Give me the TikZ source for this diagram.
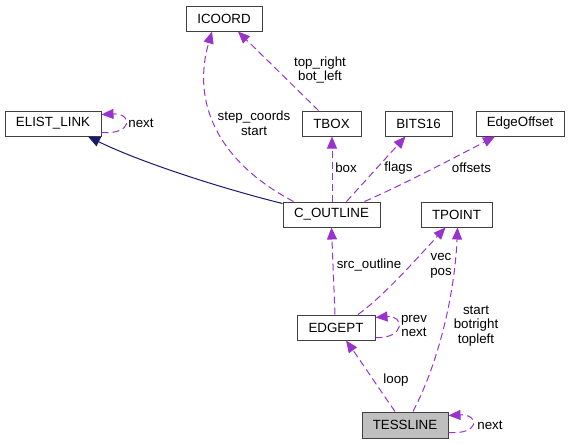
\documentclass[tikz,border=0pt]{standalone}
\usepackage{fontspec}
\setmainfont{Liberation Sans}
\usetikzlibrary{arrows.meta,calc}
\definecolor{usecol}{HTML}{9A32CD}
\definecolor{inhcol}{HTML}{191970}
\begin{document}
\begin{tikzpicture}[x=0.75pt,y=-0.75pt,
  cls/.style={draw=black!75, line width=0.75pt, fill=white, minimum height=25*0.75pt, inner sep=0pt, font=\fontsize{10}{11}\selectfont},
  lbl/.style={align=center, font=\fontsize{10}{11}\selectfont, inner sep=0pt},
  usage/.style={draw=usecol, line width=0.75pt, dash pattern=on 5.25pt off 3pt, -{Triangle[length=9pt,width=7.5pt,fill=usecol]}},
  inherit/.style={draw=inhcol, line width=0.75pt, -{Triangle[length=9pt,width=7.5pt,fill=inhcol]}}]
\useasboundingbox (0,0) rectangle (569,444);
% nodes
\node[cls, minimum width=76*0.75pt] (icoord) at (224,18.5) {ICOORD};
\node[cls, minimum width=96*0.75pt] (elist) at (53,123.5) {ELIST\_LINK};
\node[cls, minimum width=59*0.75pt] (tbox) at (331.5,123.5) {TBOX};
\node[cls, minimum width=67*0.75pt] (bits) at (418.5,123.5) {BITS16};
\node[cls, minimum width=88*0.75pt] (eo) at (520,123.5) {EdgeOffset};
\node[cls, minimum width=97*0.75pt] (cout) at (331.5,214.5) {C\_OUTLINE};
\node[cls, minimum width=71*0.75pt] (tpoint) at (456.5,214.5) {TPOINT};
\node[cls, minimum width=78*0.75pt] (edgept) at (336,327.5) {EDGEPT};
\node[cls, minimum width=86*0.75pt, minimum height=26*0.75pt, fill=black!25] (tess) at (405,425) {TESSLINE};
% inheritance
\draw[inherit] ($(cout.north west)+(0,2)$) .. controls (220,188) and (140,162) .. ($(elist.south)+(35,0)$);
% self loops
\draw[usage] ($(elist.south east)+(0,-4)$) .. controls (133,135) and (133,113) .. ($(elist.north east)+(0,4)$);
\draw[usage] ($(edgept.south east)+(0,-3)$) .. controls (405,339) and (405,315) .. ($(edgept.north east)+(0,3)$);
\draw[usage] ($(tess.south east)+(0,-6)$) .. controls (480,435) and (480,414) .. ($(tess.north east)+(0,4)$);
% usage edges
\draw[usage] ($(cout.north)+(-38,0)$) .. controls (215,160) and (192,100) .. ($(icoord.south)+(-12,0)$);
\draw[usage] ($(tbox.north)+(-13,0)$) -- ($(icoord.south)+(14,0)$);
\draw[usage] ($(cout.north)+(0.5,0)$) -- ($(tbox.south)+(0.5,0)$);
\draw[usage] ($(cout.north)+(15,0)$) -- ($(bits.south)+(-13,0)$);
\draw[usage] ($(cout.north)+(33,0)$) .. controls (400,186) and (450,160) .. ($(eo.south)+(-25,0)$);
\draw[usage] ($(edgept.north)+(-1,0)$) -- (cout.south);
\draw[usage] ($(edgept.north)+(22,0)$) .. controls (385,295) and (420,255) .. ($(tpoint.south)+(-11,0)$);
\draw[usage] ($(tess.north)+(-10,0)$) .. controls (380,390) and (360,360) .. ($(edgept.south)+(10,0)$);
\draw[usage] ($(tess.north)+(8,0)$) .. controls (440,360) and (455,290) .. ($(tpoint.south)+(1,0)$);
% labels
\node[lbl] (l1) at (141,123) {next};
\node[lbl] (l2) at (254,123) {step\_coords\\start};
\node[lbl] (l3) at (320,70) {top\_right\\bot\_left};
\node[lbl] (l4) at (346,168) {box};
\node[lbl] (l5) at (398.5,168) {flags};
\node[lbl] (l6) at (471.5,168) {offsets};
\node[lbl] (l7) at (369,265) {src\_outline};
\node[lbl] (l8) at (441,266) {vec\\pos};
\node[lbl] (l9) at (414,326) {prev\\next};
\node[lbl] (l10) at (396,380) {loop};
\node[lbl] (l11) at (476,326) {start\\botright\\topleft};
\node[lbl] (l12) at (490,425) {next};
\end{tikzpicture}
\end{document}
